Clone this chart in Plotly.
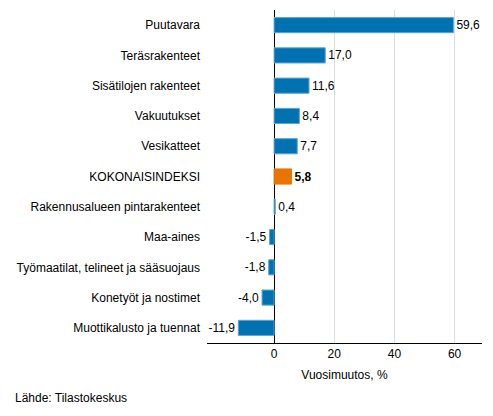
import plotly.graph_objects as go

categories = ["Puutavara", "Teräsrakenteet", "Sisätilojen rakenteet", "Vakuutukset",
              "Vesikatteet", "KOKONAISINDEKSI", "Rakennusalueen pintarakenteet",
              "Maa-aines", "Työmaatilat, telineet ja sääsuojaus",
              "Konetyöt ja nostimet", "Muottikalusto ja tuennat"]
values = [59.6, 17.0, 11.6, 8.4, 7.7, 5.8, 0.4, -1.5, -1.8, -4.0, -11.9]
highlight = "KOKONAISINDEKSI"

blue = "#0072b2"
orange = "#e87502"

colors = [orange if c == highlight else blue for c in categories]
lines = [orange if c == highlight else "#5aa6d6" for c in categories]
labels = []
for c, v in zip(categories, values):
    s = f"{v:.1f}".replace(".", ",")
    labels.append(f"<b>{s}</b>" if c == highlight else s)

fig = go.Figure(go.Bar(
    x=values, y=categories, orientation="h",
    marker=dict(color=colors, line=dict(color=lines, width=1)),
    text=labels, textposition="outside", cliponaxis=False,
    textfont=dict(size=12, color="#000000"),
    width=0.5,
))

# page body has an 8px margin, so the figure is sized/offset to compensate
fig.update_layout(
    width=485, height=408,
    margin=dict(l=199, r=11, t=2, b=73),
    paper_bgcolor="white", plot_bgcolor="white",
    font=dict(family="Liberation Sans, Arial, sans-serif", size=12, color="#000000"),
    showlegend=False,
    xaxis=dict(
        range=[-22.3, 69.1], tickvals=[0, 20, 40, 60],
        showgrid=True, gridcolor="#dcdcdc", gridwidth=1,
        zeroline=True, zerolinecolor="#000000", zerolinewidth=1,
        showline=True, linecolor="#000000", linewidth=1,
        ticks="", automargin=False,
        title=dict(text="Vuosimuutos, %", font=dict(size=12), standoff=10),
    ),
    yaxis=dict(
        autorange="reversed", showgrid=False, zeroline=False,
        ticks="", automargin=False, ticklabelstandoff=6,
    ),
    annotations=[dict(
        text="Lähde: Tilastokeskus", xref="paper", yref="paper",
        x=(13 - 207) / 275, y=-0.165, xanchor="left", yanchor="middle",
        showarrow=False, font=dict(size=12),
    )],
)

fig.write_html("out.html")
